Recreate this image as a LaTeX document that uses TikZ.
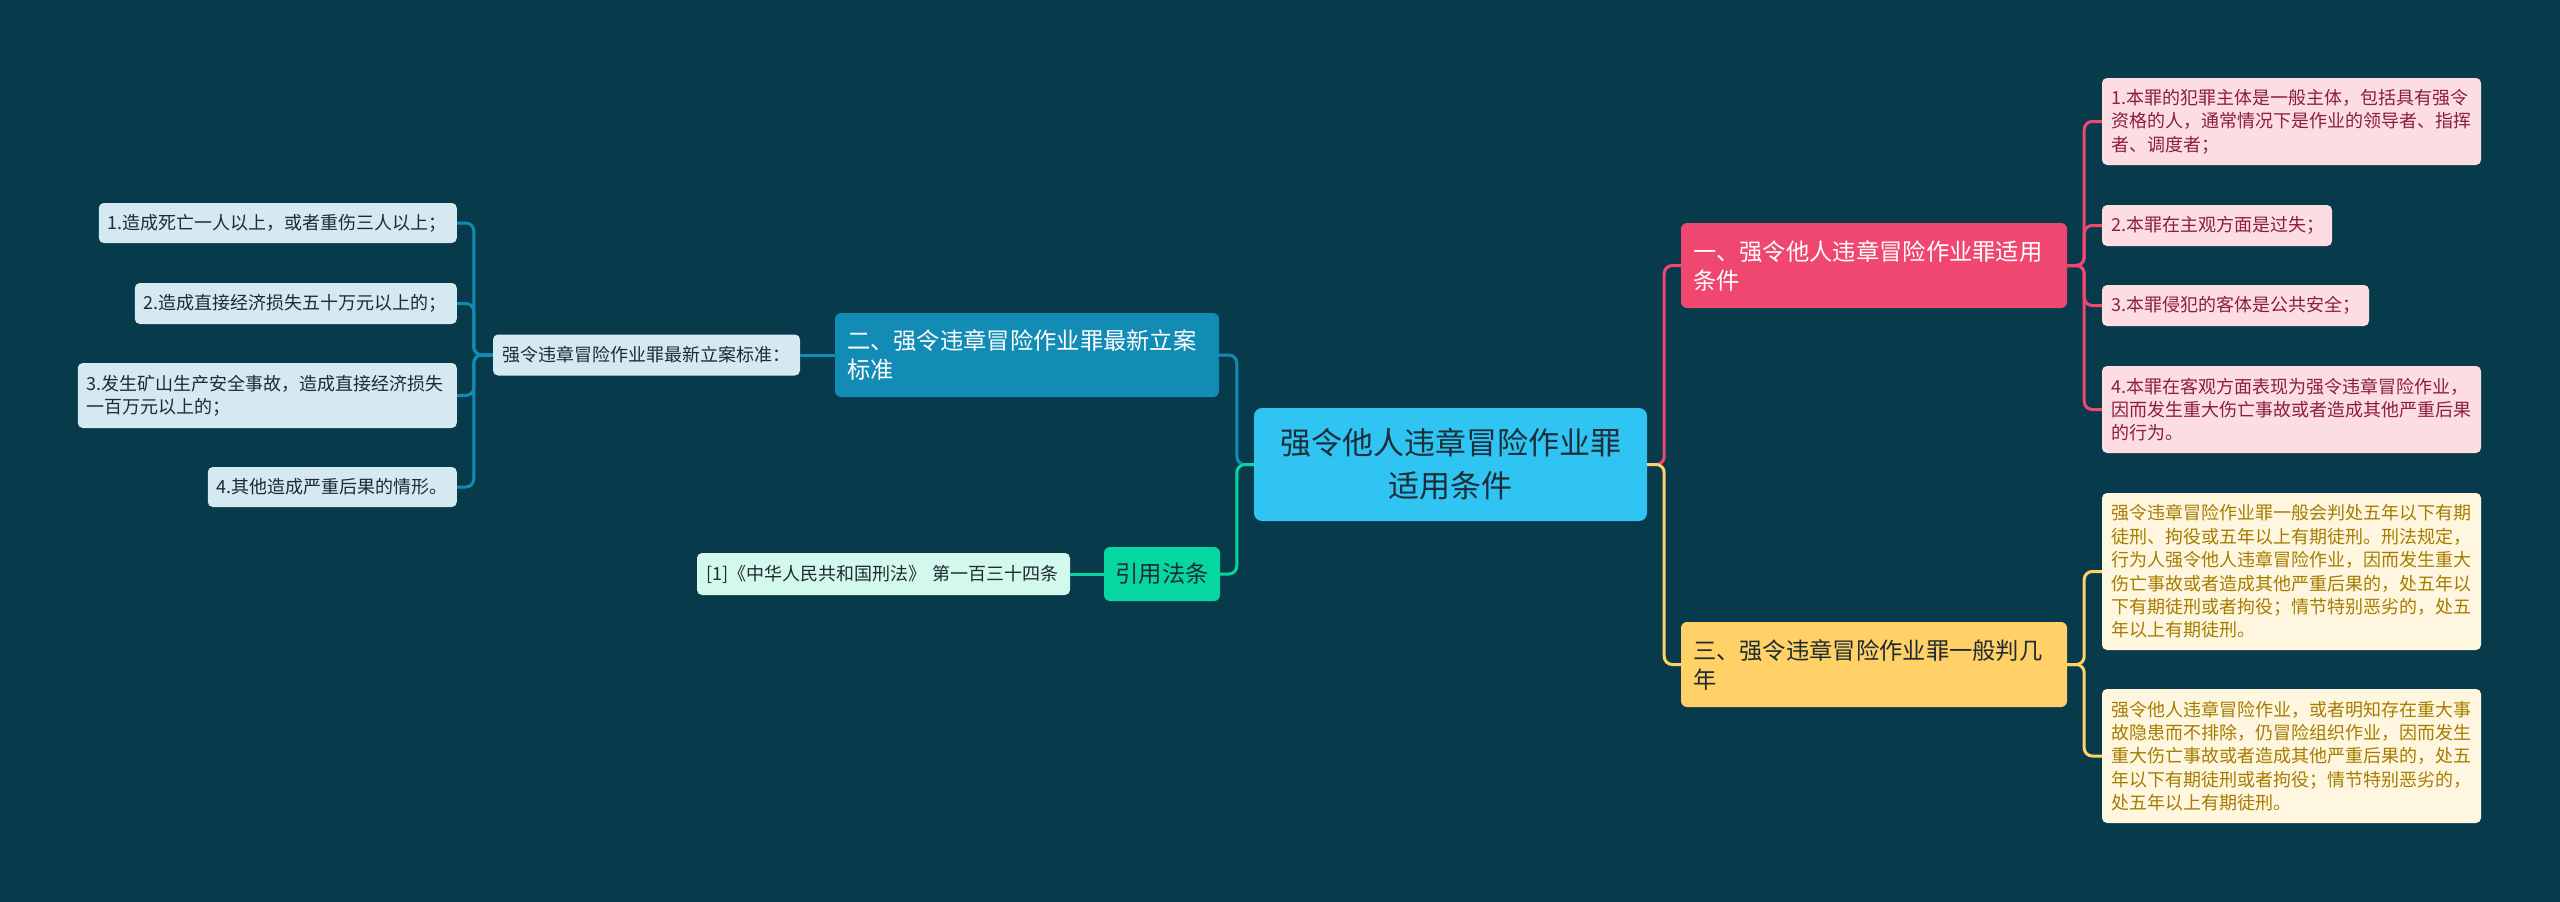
\documentclass[tikz,border=0pt]{standalone}
\usepackage{fontspec}
\setmainfont{Noto Sans CJK SC}
\definecolor{bg}{HTML}{073A4B}
\definecolor{rootc}{HTML}{2FC4F2}
\definecolor{rootT}{HTML}{1B2E3A}
\definecolor{redc}{HTML}{EF476F}
\definecolor{bluec}{HTML}{128CB4}
\definecolor{yelc}{HTML}{FFD166}
\definecolor{grnc}{HTML}{06D6A0}
\definecolor{pinkf}{HTML}{FDDDE4}
\definecolor{pinkT}{HTML}{8B1E3F}
\definecolor{creamf}{HTML}{FFF6DF}
\definecolor{creamT}{HTML}{A67C00}
\definecolor{lbluef}{HTML}{D5E9F0}
\definecolor{lgrnf}{HTML}{D3F8EC}
\definecolor{darkT}{HTML}{1E2B33}
\begin{document}
\begin{tikzpicture}[x=1pt,y=-1pt,
  rootnode/.style={fill=rootc, rounded corners=8pt, minimum width=393pt, minimum height=113pt,
    align=center, inner sep=0pt, text=rootT, font=\fontsize{31}{43}\selectfont},
  lvlone/.style={rounded corners=6pt, align=left, inner xsep=12pt, inner ysep=0pt,
    text width=362pt, minimum height=85pt, font=\fontsize{23.3}{29}\selectfont},
  lvltwo/.style={rounded corners=5pt, align=left, inner xsep=9pt, inner ysep=0pt,
    font=\fontsize{18}{23.4}\selectfont},
  pinkbox/.style={lvltwo, fill=pinkf, text=pinkT},
  creambox/.style={lvltwo, fill=creamf, text=creamT},
  lbluebox/.style={lvltwo, fill=lbluef, text=darkT},
  lgrnbox/.style={lvltwo, fill=lgrnf, text=darkT},
  conn/.style={line width=3pt, rounded corners=8pt},
]
\fill[bg] (0,0) rectangle (2560,902);
\useasboundingbox (0,0) rectangle (2560,902);

% root
\node[rootnode] (c) at (1450.5,464.5) {强令他人违章冒险作业罪\\适用条件};

% level one
\node[lvlone, fill=redc, text=white] (red) at (1874,265.5) {一、强令他人违章冒险作业罪适用\\条件};
\node[lvlone, fill=yelc, text=darkT] (yel) at (1874,664.5) {三、强令违章冒险作业罪一般判几\\年};
\node[lvlone, fill=bluec, text=white, text width=360pt, minimum height=84pt] (blue) at (1027,355) {二、强令违章冒险作业罪最新立案\\标准};
\node[fill=grnc, text=darkT, rounded corners=6pt, minimum width=116pt, minimum height=54pt, inner sep=0pt,
  font=\fontsize{23.3}{29}\selectfont] (grn) at (1162,574) {引用法条};

% pink
\node[pinkbox, text width=361pt, minimum height=87pt] (p1) at (2291.5,121.5) {1.本罪的犯罪主体是一般主体，包括具有强令\\资格的人，通常情况下是作业的领导者、指挥\\者、调度者；};
\node[pinkbox, text width=212pt, minimum height=41pt] (p2) at (2217,225.5) {2.本罪在主观方面是过失；};
\node[pinkbox, text width=249pt, minimum height=41pt] (p3) at (2235.5,305.5) {3.本罪侵犯的客体是公共安全；};
\node[pinkbox, text width=361pt, minimum height=87pt] (p4) at (2291.5,409.5) {4.本罪在客观方面表现为强令违章冒险作业，\\因而发生重大伤亡事故或者造成其他严重后果\\的行为。};

% cream
\node[creambox, text width=361pt, minimum height=157pt] (y1) at (2291.5,571.5) {强令违章冒险作业罪一般会判处五年以下有期\\徒刑、拘役或五年以上有期徒刑。刑法规定，\\行为人强令他人违章冒险作业，因而发生重大\\伤亡事故或者造成其他严重后果的，处五年以\\下有期徒刑或者拘役；情节特别恶劣的，处五\\年以上有期徒刑。};
\node[creambox, text width=361pt, minimum height=134pt] (y2) at (2291.5,756) {强令他人违章冒险作业，或者明知存在重大事\\故隐患而不排除，仍冒险组织作业，因而发生\\重大伤亡事故或者造成其他严重后果的，处五\\年以下有期徒刑或者拘役；情节特别恶劣的，\\处五年以上有期徒刑。};

% left blue
\node[lbluebox, text width=289pt, minimum height=41pt] (mid) at (646.5,355) {强令违章冒险作业罪最新立案标准：};
\node[lbluebox, text width=340pt, minimum height=40pt, anchor=east] (l1) at (457,223) {1.造成死亡一人以上，或者重伤三人以上；};
\node[lbluebox, text width=304pt, minimum height=41pt, anchor=east] (l2) at (457,303.5) {2.造成直接经济损失五十万元以上的；};
\node[lbluebox, text width=361pt, minimum height=65pt, anchor=east] (l3) at (457,395.5) {3.发生矿山生产安全事故，造成直接经济损失\\一百万元以上的；};
\node[lbluebox, text width=231pt, minimum height=40pt, anchor=east] (l4) at (457,487) {4.其他造成严重后果的情形。};

% ref
\node[lgrnbox, text width=355pt, minimum height=42pt] (ref) at (883.5,574) {[1]《中华人民共和国刑法》 第一百三十四条};

% connectors
\draw[conn, redc] (c.east) -- ++(17,0) |- (red.west);
\draw[conn, yelc] (c.east) -- ++(17,0) |- (yel.west);
\draw[conn, bluec] (c.west) -- ++(-17,0) |- (blue.east);
\draw[conn, grnc] (c.west) -- ++(-17,0) |- (grn.east);

\foreach \t in {p1,p2,p3,p4} \draw[conn, redc] (red.east) -- ++(17,0) |- (\t.west);
\foreach \t in {y1,y2} \draw[conn, yelc] (yel.east) -- ++(17,0) |- (\t.west);
\draw[conn, bluec] (blue.west) -- (mid.east);
\foreach \t in {l1,l2,l3,l4} \draw[conn, bluec] (mid.west) -- ++(-19,0) |- (\t.east);
\draw[conn, grnc] (grn.west) -- (ref.east);
\end{tikzpicture}
\end{document}
